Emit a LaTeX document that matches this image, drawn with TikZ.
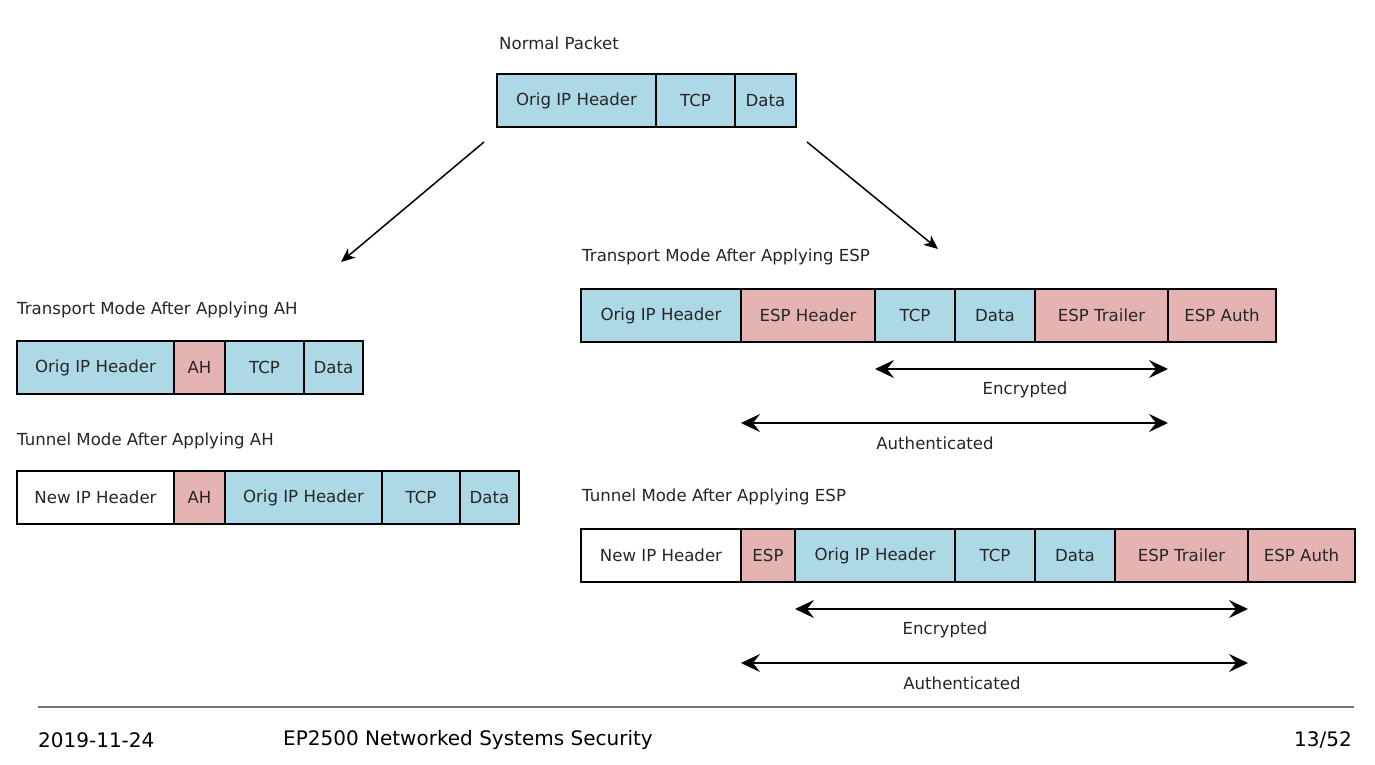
\documentclass[tikz,border=0pt]{standalone}
\usepackage{fontspec}
\setmainfont{DejaVu Sans}
\usetikzlibrary{arrows, arrows.meta, positioning}
\definecolor{ipblue}{HTML}{ADD8E6}
\definecolor{secpink}{HTML}{E6B3B3}

\begin{document}
\begin{tikzpicture}[x=1pt, y=-1pt]
\tikzstyle{cell}=[draw, line width=1.8pt, minimum height=53pt, inner sep=0pt, outer sep=0pt, anchor=north west, text=black!85, font=\fontsize{16.6}{20}\selectfont]
\tikzstyle{ipcell}=[cell, fill=ipblue]
\tikzstyle{sccell}=[cell, fill=secpink]
\tikzstyle{newcell}=[cell, fill=white]
\tikzstyle{caption}=[anchor=west, inner sep=0pt, text=black!85, font=\fontsize{16.6}{20}\selectfont]
\tikzstyle{span}=[line width=1.8pt, >={Stealth[length=19pt, width=18pt, inset=7pt]}, <->]
\tikzstyle{feed}=[line width=1.5pt, >={Stealth[length=14pt, width=12pt, inset=4pt]}, ->]
\tikzstyle{foot}=[anchor=west, inner sep=0pt, font=\fontsize{20}{24}\selectfont]

\fill[white] (0,0) rectangle (1375,765);
\useasboundingbox (0,0) rectangle (1375,765);

% normal packet
\node[caption] (npcap) at (499,43) {Normal Packet};
\node[ipcell, minimum width=159pt] (np1) at (497,74) {Orig IP Header};
\node[ipcell, minimum width=79pt] (np2) at (656,74) {TCP};
\node[ipcell, minimum width=61pt] (np3) at (735,74) {Data};

\coordinate (ahsrc) at (484,142);
\coordinate (ahdst) at (341,262);
\coordinate (espsrc) at (807,142);
\coordinate (espdst) at (938,249);
\draw[feed] (ahsrc) -- (ahdst);
\draw[feed] (espsrc) -- (espdst);

% transport mode, AH
\node[caption] (tahcap) at (17,310) {Transport Mode After Applying AH};
\node[ipcell, minimum width=157pt] (tah1) at (17,341) {Orig IP Header};
\node[sccell, minimum width=51pt] (tah2) at (174,341) {AH};
\node[ipcell, minimum width=79pt] (tah3) at (225,341) {TCP};
\node[ipcell, minimum width=59pt] (tah4) at (304,341) {Data};

% tunnel mode, AH
\node[caption] (uahcap) at (17,441) {Tunnel Mode After Applying AH};
\node[newcell, minimum width=157pt] (uah1) at (17,471) {New IP Header};
\node[sccell, minimum width=51pt] (uah2) at (174,471) {AH};
\node[ipcell, minimum width=157pt] (uah3) at (225,471) {Orig IP Header};
\node[ipcell, minimum width=78pt] (uah4) at (382,471) {TCP};
\node[ipcell, minimum width=59pt] (uah5) at (460,471) {Data};

% transport mode, ESP
\node[caption] (tespcap) at (582,257) {Transport Mode After Applying ESP};
\node[ipcell, minimum width=160pt] (tesp1) at (581,289) {Orig IP Header};
\node[sccell, minimum width=134pt] (tesp2) at (741,289) {ESP Header};
\node[ipcell, minimum width=80pt] (tesp3) at (875,289) {TCP};
\node[ipcell, minimum width=80pt] (tesp4) at (955,289) {Data};
\node[sccell, minimum width=133pt] (tesp5) at (1035,289) {ESP Trailer};
\node[sccell, minimum width=108pt] (tesp6) at (1168,289) {ESP Auth};

\coordinate (tencL) at (875,369);
\coordinate (tencR) at (1168,369);
\coordinate (tautL) at (741,423);
\coordinate (tautR) at (1168,423);
\draw[span] (tencL) -- (tencR);
\draw[span] (tautL) -- (tautR);
\node[caption, anchor=center] (tenc) at (1025,390) {Encrypted};
\node[caption, anchor=center] (taut) at (935,443) {Authenticated};

% tunnel mode, ESP
\node[caption] (uespcap) at (582,497) {Tunnel Mode After Applying ESP};
\node[newcell, minimum width=160pt] (uesp1) at (581,529) {New IP Header};
\node[sccell, minimum width=54pt] (uesp2) at (741,529) {ESP};
\node[ipcell, minimum width=160pt] (uesp3) at (795,529) {Orig IP Header};
\node[ipcell, minimum width=80pt] (uesp4) at (955,529) {TCP};
\node[ipcell, minimum width=80pt] (uesp5) at (1035,529) {Data};
\node[sccell, minimum width=133pt] (uesp6) at (1115,529) {ESP Trailer};
\node[sccell, minimum width=107pt] (uesp7) at (1248,529) {ESP Auth};

\coordinate (uencL) at (795,609);
\coordinate (uencR) at (1248,609);
\coordinate (uautL) at (741,663);
\coordinate (uautR) at (1248,663);
\draw[span] (uencL) -- (uencR);
\draw[span] (uautL) -- (uautR);
\node[caption, anchor=center] (uenc) at (945,630) {Encrypted};
\node[caption, anchor=center] (uaut) at (962,683) {Authenticated};

% footer
\draw[black!55, line width=1.2pt] (38,707) -- (1354,707);
\node[foot] (date) at (38,740) {2019-11-24};
\node[foot] (course) at (283,740) {EP2500 Networked Systems Security};
\node[foot, anchor=east] (page) at (1352,740) {13/52};
\end{tikzpicture}
\end{document}
